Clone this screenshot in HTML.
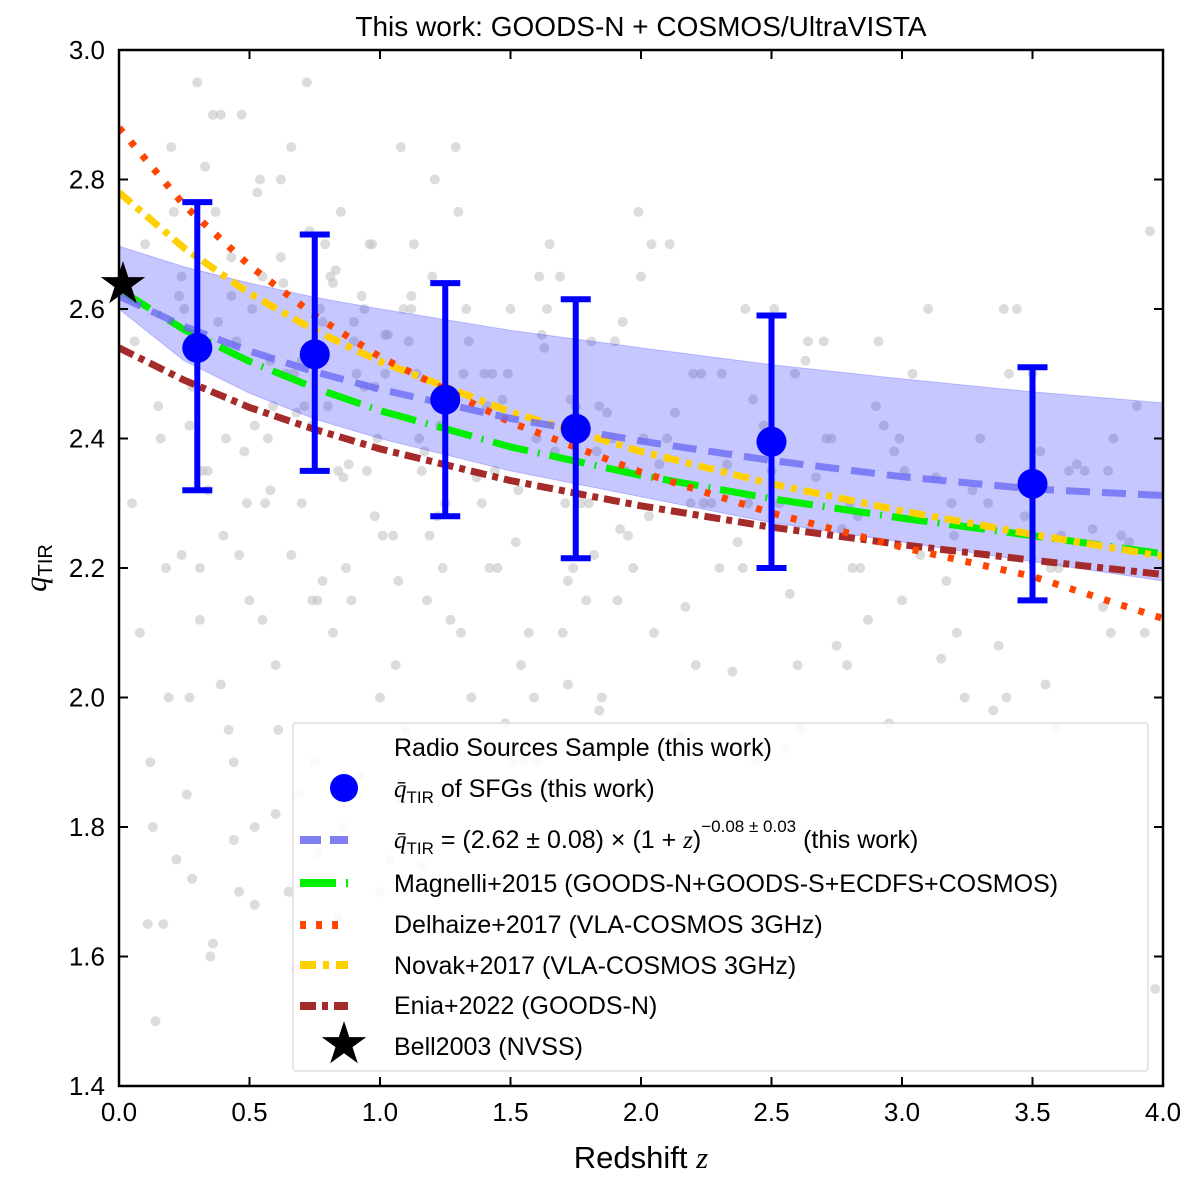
<!DOCTYPE html>
<html><head><meta charset="utf-8"><style>
body{margin:0;background:#fff}
svg text{font-family:"Liberation Sans",sans-serif;fill:#000}
</style></head><body>
<svg id="chart" width="1200" height="1190" xmlns="http://www.w3.org/2000/svg">
<text x="641" y="36" font-size="28" text-anchor="middle">This work: GOODS-N + COSMOS/UltraVISTA</text>
<defs><clipPath id="pc"><rect x="119" y="50" width="1044" height="1036"/></clipPath></defs>
<g id="scatter" clip-path="url(#pc)"></g>
<g id="band" clip-path="url(#pc)"></g>
<g id="lines" clip-path="url(#pc)"></g>
<g id="points"></g>
<rect x="119" y="50" width="1044" height="1036" fill="none" stroke="#000" stroke-width="2.5"/>
<g id="axes"></g>
<text x="641" y="1168" font-size="31" text-anchor="middle">Redshift <tspan font-family="Liberation Serif" font-style="italic">z</tspan></text>
<text transform="translate(46,568) rotate(-90)" font-size="31" text-anchor="middle"><tspan font-family="Liberation Serif" font-style="italic">q</tspan><tspan font-size="20" dy="6">TIR</tspan></text>
<g>
<rect x="293" y="723" width="855" height="348" fill="#fff" fill-opacity="0.85" stroke="#ddd" stroke-width="1.5" rx="3"/>
<g font-size="25">
<text x="394" y="756">Radio Sources Sample (this work)</text>
<circle cx="344" cy="788" r="14" fill="#0000ff"/>
<text x="394" y="797"><tspan font-family="Liberation Serif" font-style="italic">q̄</tspan><tspan font-size="17" dy="6">TIR</tspan><tspan dy="-6"> of SFGs (this work)</tspan></text>
<line x1="300" y1="840" x2="348" y2="840" stroke="#7f7ff0" stroke-width="8" stroke-dasharray="21,9"/>
<text x="394" y="848"><tspan font-family="Liberation Serif" font-style="italic">q̄</tspan><tspan font-size="17" dy="6">TIR</tspan><tspan dy="-6"> = (2.62 ± 0.08) × (1 + </tspan><tspan font-family="Liberation Serif" font-style="italic">z</tspan><tspan>)</tspan><tspan font-size="17" dy="-16">−0.08 ± 0.03</tspan><tspan dy="16"> (this work)</tspan></text>
<line x1="300" y1="883" x2="348" y2="883" stroke="#00ee00" stroke-width="8" stroke-dasharray="36,10,2,10"/>
<text x="394" y="892">Magnelli+2015 (GOODS-N+GOODS-S+ECDFS+COSMOS)</text>
<line x1="300" y1="925" x2="348" y2="925" stroke="#ff4500" stroke-width="8" stroke-dasharray="6,10"/>
<text x="394" y="933">Delhaize+2017 (VLA-COSMOS 3GHz)</text>
<line x1="300" y1="965" x2="348" y2="965" stroke="#ffd000" stroke-width="8" stroke-dasharray="16,7,6,7"/>
<text x="394" y="974">Novak+2017 (VLA-COSMOS 3GHz)</text>
<line x1="300" y1="1006" x2="348" y2="1006" stroke="#a52a2a" stroke-width="8" stroke-dasharray="16,6,6,6"/>
<text x="394" y="1014">Enia+2022 (GOODS-N)</text>
<text x="344" y="1063" font-size="58" text-anchor="middle">★</text>
<text x="394" y="1055">Bell2003 (NVSS)</text>
</g></g>
</svg>
<script>
const NS='http://www.w3.org/2000/svg';
const X0=119,X1=1163,Y0=1086,Y1=50,ZMIN=0,ZMAX=4,QMIN=1.4,QMAX=3.0;
const xs=z=>X0+(z-ZMIN)/(ZMAX-ZMIN)*(X1-X0);
const ys=q=>Y0-(q-QMIN)/(QMAX-QMIN)*(Y0-Y1);
const xTicks=[0,0.5,1,1.5,2,2.5,3,3.5,4];
const xTickLabels=['0.0','0.5','1.0','1.5','2.0','2.5','3.0','3.5','4.0'];
const yTicks=[1.4,1.6,1.8,2.0,2.2,2.4,2.6,2.8,3.0];
const yTickLabels=['1.4','1.6','1.8','2.0','2.2','2.4','2.6','2.8','3.0'];
const curveZ=[0,0.25,0.5,0.75,1,1.5,2,2.5,3,3.5,4];
const fitQ=[2.62,2.573,2.535,2.503,2.476,2.431,2.396,2.366,2.341,2.322,2.312];
const bandUpper=[2.697,2.665,2.64,2.618,2.60,2.567,2.54,2.514,2.492,2.472,2.455];
const bandLower=[2.60,2.52,2.47,2.43,2.40,2.35,2.31,2.27,2.24,2.21,2.18];
const magnelliQ=[2.63,2.568,2.519,2.478,2.443,2.387,2.343,2.307,2.277,2.25,2.222];
const delhaizeQ=[2.88,2.76,2.667,2.59,2.526,2.425,2.348,2.285,2.232,2.187,2.122];
const novakQ=[2.78,2.694,2.624,2.567,2.519,2.441,2.38,2.33,2.288,2.252,2.218];
const eniaQ=[2.54,2.49,2.448,2.414,2.384,2.335,2.296,2.263,2.236,2.212,2.19];
const sfgZ=[0.3,0.75,1.25,1.75,2.5,3.5];
const sfgQ=[2.54,2.53,2.46,2.415,2.395,2.33];
const sfgUp=[2.765,2.715,2.64,2.615,2.59,2.51];
const sfgLo=[2.32,2.35,2.28,2.215,2.2,2.15];
const bellZ=[0.0];
const bellQ=[2.64];
const scatZ=[0.05,0.08,0.1,0.12,0.15,0.18,0.2,0.22,0.25,0.27,0.3,0.32,0.35,0.37,0.4,0.42,0.45,0.47,0.5,0.52,0.55,0.57,0.6,0.62,0.65,0.67,0.7,0.72,0.75,0.77,0.8,0.82,0.85,0.87,0.9,0.92,0.95,0.97,1.0,1.02,1.05,1.08,1.1,1.12,1.15,1.18,1.2,1.25,1.3,1.35,1.4,1.45,1.5,1.55,1.6,1.65,1.7,1.75,1.8,1.85,1.9,1.95,2.0,2.05,2.1,2.2,2.3,2.4,2.5,2.6,2.7,2.8,2.9,3.0,3.1,3.2,3.3,3.4,3.5,3.6,3.7,3.8,3.9,
0.06,0.11,0.16,0.21,0.26,0.31,0.36,0.41,0.46,0.51,0.56,0.61,0.66,0.71,0.76,0.81,0.86,0.91,0.96,1.01,1.06,1.11,1.16,1.21,1.31,1.41,1.51,1.61,1.71,1.81,1.91,2.01,2.11,2.21,2.31,2.41,2.51,2.61,2.71,2.81,2.91,3.01,3.21,3.41,3.61,3.81,
0.14,0.24,0.34,0.44,0.54,0.64,0.74,0.84,0.94,1.04,1.14,1.24,1.34,1.44,1.54,1.64,1.74,1.84,1.94,2.04,2.24,2.44,2.64,2.84,3.04,3.24,3.44,3.64,3.84,0.19,0.29,0.39,0.49,0.59,0.69,0.79,0.89,0.99,1.09,1.19,1.29,1.39,1.49,1.59,1.69,1.79,1.89,1.99,2.19,2.39,2.59,2.79,2.99,3.19,3.39,3.59,3.79,3.95,
0.23,0.28,0.33,0.38,0.43,0.48,0.53,0.58,0.63,0.68,0.73,0.78,0.83,0.88,0.93,0.98,1.03,1.13,1.23,1.33,1.43,1.53,1.63,1.73,1.83,1.93,2.03,2.13,2.23,2.33,2.43,2.53,2.63,2.73,2.83,2.93,3.13,3.33,3.53,3.73,3.93,
0.24,0.27,0.31,0.34,0.39,0.43,0.46,0.52,0.55,0.58,0.62,0.66,0.7,0.74,0.78,0.82,0.86,0.9,0.94,0.98,1.02,1.07,1.12,1.17,1.22,1.27,1.32,1.37,1.42,1.47,1.52,1.57,1.62,1.67,1.72,1.77,1.82,1.87,1.92,1.97,2.07,2.17,2.27,2.37,2.47,2.57,2.67,2.77,2.87,2.97,3.07,3.17,3.27,3.37,3.47,3.57,3.67,3.77,3.87,3.97,
0.13,0.17,0.28,0.36,0.44,0.52,0.6,0.68,0.76,0.84,0.92,1.0,1.08,1.16,1.24,1.36,1.48,1.6,1.72,1.84,1.96,2.15,2.35,2.55,2.75,2.95,3.15,3.35,3.55,3.75];
const scatQ=[2.3,2.1,2.7,1.9,2.45,2.2,2.85,1.75,2.6,2.0,2.95,2.35,1.6,2.75,2.25,1.95,2.55,2.9,2.15,1.8,2.65,2.4,2.05,2.8,1.7,2.5,2.3,2.95,1.9,2.6,2.45,2.1,2.75,2.2,2.55,1.85,2.35,2.7,2.0,2.5,2.25,2.85,1.95,2.6,2.4,2.15,2.65,2.3,2.75,2.0,2.5,2.2,2.6,1.9,2.4,2.7,2.1,2.45,2.3,2.0,2.55,2.25,2.65,2.1,2.4,2.5,2.2,2.6,2.35,2.05,2.55,2.3,2.45,2.15,2.6,2.25,2.4,2.0,2.5,2.2,2.35,2.1,2.45,
2.55,1.65,2.4,2.75,1.85,2.2,2.9,2.4,1.7,2.6,2.3,1.95,2.85,2.45,2.15,2.65,1.8,2.5,2.7,2.25,2.05,2.55,2.35,2.8,2.1,2.45,1.9,2.65,2.3,2.55,2.15,2.4,2.7,2.05,2.5,2.3,2.6,1.95,2.4,2.2,2.55,2.35,2.1,2.5,2.25,2.4,
1.5,2.65,2.35,1.9,2.8,2.5,2.15,2.35,2.6,1.75,2.5,2.2,2.55,2.35,2.05,2.6,2.2,2.45,2.35,2.7,2.3,1.9,2.55,2.2,2.5,2.0,2.6,2.35,2.25,2.0,2.55,2.9,2.3,2.45,1.85,2.7,2.15,2.4,2.6,2.25,2.85,2.3,2.5,2.0,2.65,2.15,2.4,2.75,2.3,2.2,2.5,2.05,2.4,2.3,2.6,1.95,2.35,
2.72,2.62,2.48,2.82,2.58,2.68,2.38,2.78,2.52,2.64,2.44,2.72,2.58,2.66,2.36,2.62,2.48,2.56,2.7,2.42,2.6,2.5,2.32,2.54,2.46,2.38,2.58,2.28,2.44,2.5,2.36,2.46,2.3,2.52,2.4,2.28,2.42,2.34,2.3,2.38,2.26,
2.1,2.22,2.42,2.12,2.32,2.02,2.62,2.22,2.42,2.12,2.32,2.68,2.22,2.52,2.42,2.18,2.64,2.34,2.58,2.48,2.28,2.56,2.18,2.62,2.38,2.28,2.12,2.5,2.34,2.2,2.46,2.24,2.1,2.56,2.38,2.18,2.3,2.22,2.44,2.26,2.2,2.36,2.14,2.3,2.24,2.42,2.16,2.34,2.26,2.12,2.38,2.22,2.18,2.32,2.08,2.28,2.2,2.36,2.14,2.24,
1.55,1.8,1.65,1.72,1.62,1.78,1.68,1.82,1.58,1.76,1.66,1.88,1.7,1.84,1.74,1.92,1.86,1.96,1.9,2.02,1.98,1.86,1.94,2.04,1.92,2.08,1.96,2.06,1.98,2.02];
const mk=(t,a)=>{const e=document.createElementNS(NS,t);for(const k in a)e.setAttribute(k,a[k]);return e;};
const sc=document.getElementById('scatter');
scatZ.forEach((z,i)=>{const c=mk('circle',{cx:xs(z),cy:ys(scatQ[i]),r:5,fill:'#c4c4c4','fill-opacity':0.6});


sc.appendChild(c);});
let bp='M'+curveZ.map((z,i)=>xs(z)+','+ys(bandUpper[i])).join('L');
for(let i=curveZ.length-1;i>=0;i--)bp+='L'+xs(curveZ[i])+','+ys(bandLower[i]);
const band=mk('path',{d:bp+'Z',fill:'#0000ff','fill-opacity':0.22,stroke:'#6b6bff','stroke-opacity':0.4});


document.getElementById('band').appendChild(band);
function smooth(q){const pts=[];for(let i=0;i<curveZ.length-1;i++){for(let k=0;k<10;k++){const t=k/10;pts.push([xs(curveZ[i]+(curveZ[i+1]-curveZ[i])*t),ys(q[i]+(q[i+1]-q[i])*t)]);}}pts.push([xs(curveZ[curveZ.length-1]),ys(q[q.length-1])]);return 'M'+pts.map(p=>p.join(',')).join('L');}
const L=document.getElementById('lines');
[[eniaQ,'#a52a2a','16,6,6,6','enia-line'],[magnelliQ,'#00ee00','36,10,2,10','magnelli-line'],[novakQ,'#ffd000','16,7,6,7','novak-line'],[delhaizeQ,'#ff4500','6,12','delhaize-line'],[fitQ,'#6b6bf5','24,12','fit-line']].forEach(s=>{
const p=mk('path',{d:smooth(s[0]),fill:'none',stroke:s[1],'stroke-width':7,'stroke-dasharray':s[2],'stroke-opacity':s[3]=='fit-line'?0.8:1});


L.appendChild(p);});
const P=document.getElementById('points');
sfgZ.forEach((z,i)=>{const x=xs(z);
const g=mk('g',{});


g.appendChild(mk('line',{x1:x,x2:x,y1:ys(sfgUp[i]),y2:ys(sfgLo[i]),stroke:'#0000ff','stroke-width':6}));
g.appendChild(mk('line',{x1:x-15,x2:x+15,y1:ys(sfgUp[i]),y2:ys(sfgUp[i]),stroke:'#0000ff','stroke-width':6}));
g.appendChild(mk('line',{x1:x-15,x2:x+15,y1:ys(sfgLo[i]),y2:ys(sfgLo[i]),stroke:'#0000ff','stroke-width':6}));
g.appendChild(mk('circle',{cx:x,cy:ys(sfgQ[i]),r:15,fill:'#0000ff'}));
P.appendChild(g);});
bellZ.forEach((z,i)=>{const t=mk('text',{x:xs(z)+4,y:ys(bellQ[i])+20,'font-size':58,'text-anchor':'middle'});t.textContent='★';


P.appendChild(t);});
const A=document.getElementById('axes');
xTicks.forEach((v,i)=>{const x=xs(v);A.appendChild(mk('line',{x1:x,x2:x,y1:Y0,y2:Y0-9,stroke:'#000','stroke-width':2}));A.appendChild(mk('line',{x1:x,x2:x,y1:Y1,y2:Y1+9,stroke:'#000','stroke-width':2}));
const t=mk('text',{x:x,y:Y0+35,'font-size':26,'text-anchor':'middle'});t.textContent=xTickLabels[i];


A.appendChild(t);});
yTicks.forEach((v,i)=>{const y=ys(v);A.appendChild(mk('line',{x1:X0,x2:X0+9,y1:y,y2:y,stroke:'#000','stroke-width':2}));A.appendChild(mk('line',{x1:X1,x2:X1-9,y1:y,y2:y,stroke:'#000','stroke-width':2}));
const t=mk('text',{x:X0-14,y:y+9,'font-size':26,'text-anchor':'end'});t.textContent=yTickLabels[i];


A.appendChild(t);});
</script>
</body></html>
